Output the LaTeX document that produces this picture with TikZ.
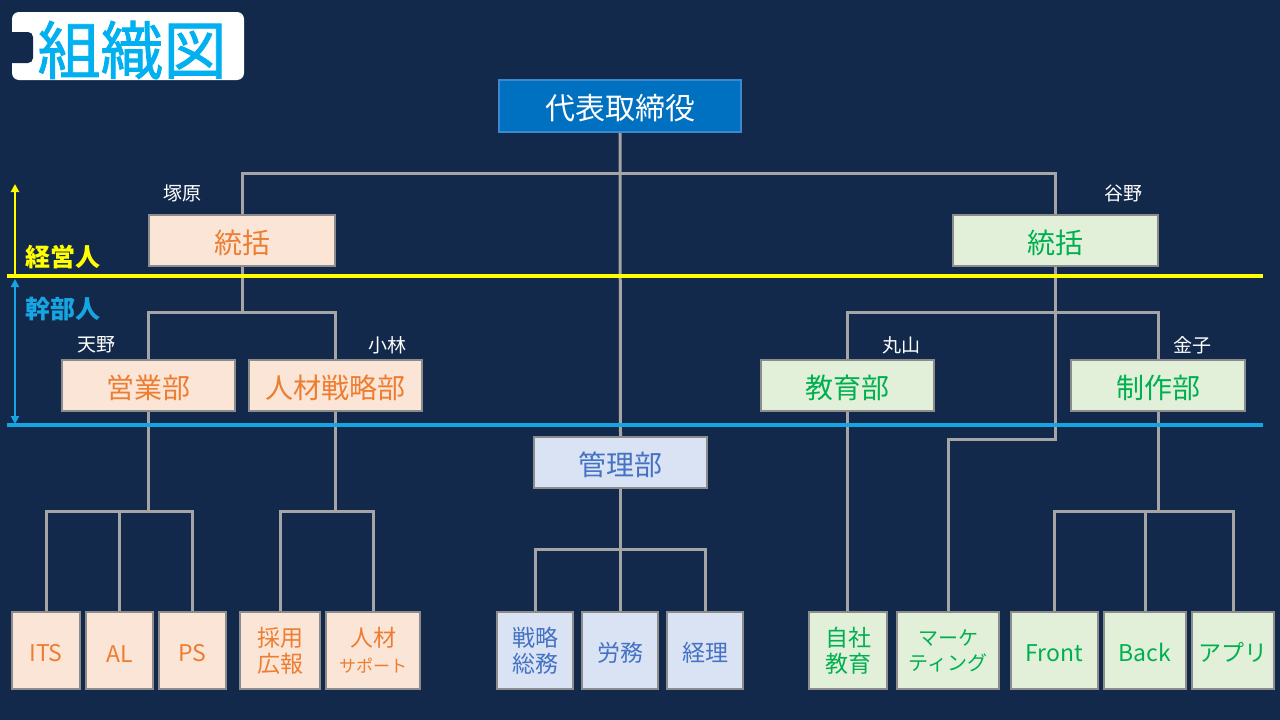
\documentclass[tikz,border=0pt]{standalone}
\usepackage{fontspec}
\setmainfont{Noto Sans CJK JP}
\newfontfamily\titlefont[FakeBold=1.2]{Noto Sans CJK JP}
\usetikzlibrary{arrows.meta}
\pgfdeclarelayer{bottom}
\pgfdeclarelayer{connlayer}
\pgfdeclarelayer{levellayer}
\pgfsetlayers{bottom,connlayer,levellayer,main}
\definecolor{bgnavy}{RGB}{19,41,75}
\definecolor{peachfill}{RGB}{251,229,214}
\definecolor{orangetext}{RGB}{237,125,49}
\definecolor{greenfill}{RGB}{226,240,217}
\definecolor{greentext}{RGB}{0,176,80}
\definecolor{bluefill}{RGB}{218,227,243}
\definecolor{bluetext}{RGB}{68,114,196}
\definecolor{topfill}{RGB}{0,112,192}
\definecolor{topborder}{RGB}{60,135,205}
\definecolor{connGray}{RGB}{165,165,165}
\definecolor{boxborder}{RGB}{140,140,140}
\definecolor{titlecyan}{RGB}{0,176,240}
\definecolor{levelblue}{RGB}{22,165,225}
\definecolor{levelyellow}{RGB}{255,255,0}
\tikzset{
  basebox/.style={draw=boxborder, line width=1.3pt, inner sep=0pt, align=center,
    execute at begin node={\rule{0pt}{1.0em}}},
  peachbox/.style={basebox, fill=peachfill, text=orangetext},
  greenbox/.style={basebox, fill=greenfill, text=greentext},
  bluebox/.style={basebox, fill=bluefill, text=bluetext},
  midfont/.style={font=\fontsize{28}{30}\selectfont},
  lowfont/.style={font=\fontsize{23}{26}\selectfont},
  midsize/.style={minimum width=173pt, minimum height=51pt},
  lowsize/.style={minimum height=77pt},
  conn/.style={draw=connGray, line width=3pt},
  namelabel/.style={text=white, font=\fontsize{19}{21}\selectfont, inner sep=0pt},
  levellabel/.style={font=\fontsize{25}{27}\selectfont\bfseries, inner sep=0pt, anchor=west},
}
\begin{document}
\begin{tikzpicture}[x=1pt,y=-1pt]
\begin{pgfonlayer}{bottom}
\fill[bgnavy] (0,0) rectangle (1280,720);
\end{pgfonlayer}
\useasboundingbox (0,0) rectangle (1280,720);

% title
\fill[white, rounded corners=7pt] (12,12) rectangle (244,80);
\fill[bgnavy, rounded corners=5pt] (-10,32) rectangle (33,63);
\node[text=titlecyan, font=\fontsize{63}{65}\selectfont\titlefont, inner sep=0pt] (title) at (132,50) {組織図};

% boxes
\node[basebox, fill=topfill, draw=topborder, text=white, minimum width=242pt, minimum height=52pt, font=\fontsize{30}{32}\selectfont] (daihyo) at (620,106) {代表取締役};

\node[peachbox, midfont, minimum width=186pt, minimum height=51pt] (toukatsuL) at (242,240.5) {統括};
\node[greenbox, midfont, minimum width=205pt, minimum height=51pt] (toukatsuR) at (1055.5,240.5) {統括};

\node[peachbox, midfont, midsize] (eigyo) at (148.5,385.5) {営業部};
\node[peachbox, midfont, midsize] (jinzai) at (335.5,385.5) {人材戦略部};
\node[greenbox, midfont, midsize] (kyouiku) at (847.5,385.5) {教育部};
\node[greenbox, midfont, minimum width=174pt, minimum height=51pt] (seisaku) at (1158,385.5) {制作部};
\node[bluebox, midfont, midsize] (kanri) at (620.5,462.5) {管理部};

\node[peachbox, lowfont, lowsize, minimum width=68pt] (its) at (46,650.5) {ITS};
\node[peachbox, lowfont, lowsize, minimum width=67pt] (al) at (119.5,650.5) {AL};
\node[peachbox, lowfont, lowsize, minimum width=67pt] (ps) at (192.5,650.5) {PS};
\node[peachbox, lowfont, lowsize, minimum width=80pt] (saiyo) at (280,650.5) {採用\\広報};
\node[peachbox, lowfont, lowsize, minimum width=94pt] (jsupport) at (373,650.5) {人材\\{\fontsize{17}{19}\selectfont サポート}};
\node[bluebox, lowfont, lowsize, minimum width=76pt] (senryaku) at (535,650.5) {戦略\\総務};
\node[bluebox, lowfont, lowsize, minimum width=76pt] (roumu) at (620,650.5) {労務};
\node[bluebox, lowfont, lowsize, minimum width=76pt] (keiri) at (705,650.5) {経理};
\node[greenbox, lowfont, lowsize, minimum width=78pt] (jisha) at (848,650.5) {自社\\教育};
\node[greenbox, lowsize, minimum width=102pt, font=\fontsize{20}{25}\selectfont] (marke) at (948,650.5) {マーケ\\ティング};
\node[greenbox, lowfont, lowsize, minimum width=87pt] (front) at (1054.5,650.5) {Front};
\node[greenbox, lowfont, lowsize, minimum width=82pt] (back) at (1145,650.5) {Back};
\node[greenbox, lowfont, lowsize, minimum width=82pt] (appli) at (1233,650.5) {アプリ};

% name labels
\node[namelabel] (nTsuka) at (182,193) {塚原};
\node[namelabel] (nTani) at (1123,193) {谷野};
\node[namelabel] (nAmano) at (96,345) {天野};
\node[namelabel] (nKoba) at (387,345) {小林};
\node[namelabel] (nMaru) at (901,345) {丸山};
\node[namelabel] (nKane) at (1192,345) {金子};

% level labels
\node[levellabel, text=levelyellow] (lvKeiei) at (25,257) {経営人};
\node[levellabel, text=levelblue] (lvKanbu) at (25,309) {幹部人};

% connectors
\begin{pgfonlayer}{connlayer}
\draw[conn] (daihyo.south) -- (kanri.north);
\draw[conn] (toukatsuL.north) -- ++(0,-41) -| (toukatsuR.north);
\draw[conn] (toukatsuL.south) -- ++(0,47);
\draw[conn] (eigyo.north) -- ++(0,-47) -| (jinzai.north);
\draw[conn] (eigyo.south) -- ++(0,101);
\draw[conn] (its.north) -- ++(0,-100) -| (ps.north);
\draw[conn] (al.north) -- ++(0,-100);
\draw[conn] (jinzai.south) -- ++(0,101);
\draw[conn] (saiyo.north) -- ++(0,-100) -| (jsupport.north);
\draw[conn] (kanri.south) -- ++(0,62);
\draw[conn] (senryaku.north) -- ++(0,-62) -| (keiri.north);
\draw[conn] (roumu.north) -- ++(0,-62);
\draw[conn] (toukatsuR.south) -- ++(0,173) -| (marke.north);
\draw[conn] (kyouiku.north) -- ++(0,-47) -| (seisaku.north);
\draw[conn] (kyouiku.south) -- (kyouiku.south |- jisha.north);
\draw[conn] (seisaku.south) -- ++(0,101);
\draw[conn] (front.north) -- ++(0,-100) -| (appli.north);
\draw[conn] (back.north) -- ++(0,-100);
\end{pgfonlayer}

% level lines and arrows
\begin{pgfonlayer}{levellayer}
\coordinate (ylL) at (7,276);
\coordinate (ylR) at (1263,276);
\coordinate (blL) at (7,425);
\coordinate (blR) at (1263,425);
\draw[levelyellow, line width=3.5pt] (ylL) -- (ylR);
\draw[levelblue, line width=3.5pt] (blL) -- (blR);
\coordinate (yaBot) at (15,276);
\coordinate (yaTop) at (15,184);
\coordinate (baTop) at (15,279);
\coordinate (baBot) at (15,424);
\draw[levelyellow, line width=2pt, -{Triangle[length=8pt,width=8pt]}] (yaBot) -- (yaTop);
\draw[levelblue, line width=2pt, {Triangle[length=8pt,width=8pt]}-{Triangle[length=8pt,width=8pt]}] (baTop) -- (baBot);
\end{pgfonlayer}
\end{tikzpicture}
\end{document}
